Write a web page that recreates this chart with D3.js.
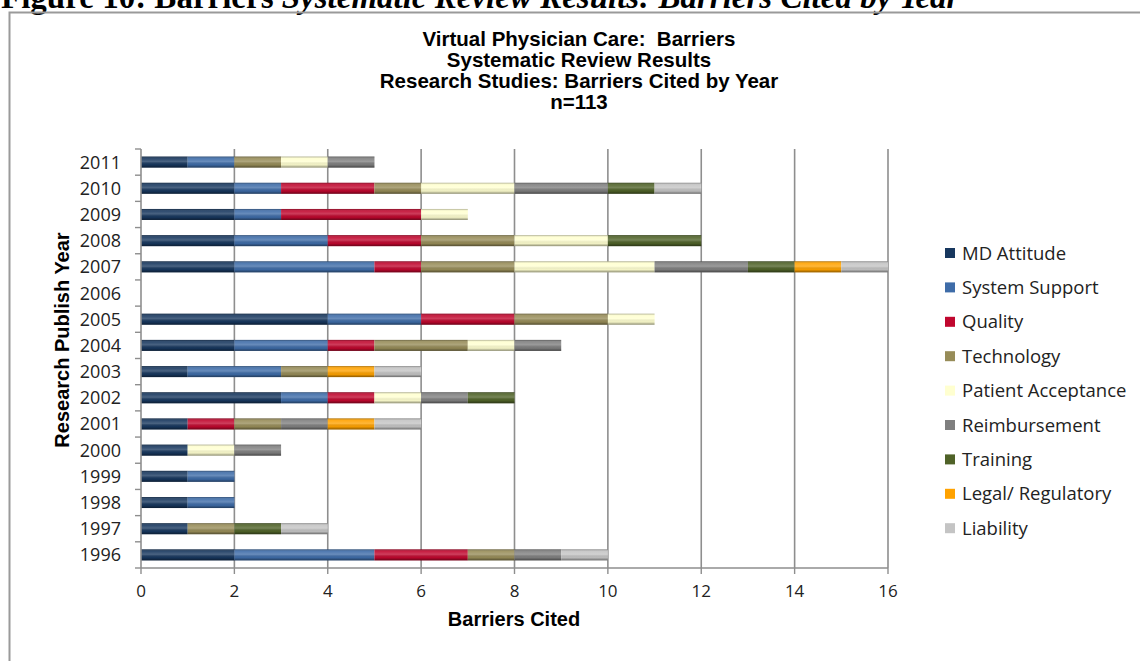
<!DOCTYPE html>
<html>
<head>
<meta charset="utf-8">
<script src="https://cdn.jsdelivr.net/npm/d3@7"></script>
<style>
  html, body { margin: 0; padding: 0; background: #fff; }
  svg { display: block; }
  text { white-space: pre; }
</style>
</head>
<body>
<svg id="chart" width="1140" height="661"></svg>
<script>
// Publication years (bottom to top on the chart)
const years = [1996, 1997, 1998, 1999, 2000, 2001, 2002, 2003, 2004, 2005, 2006, 2007, 2008, 2009, 2010, 2011];

// Barrier categories, in stacking order
const seriesNames = ["MD Attitude", "System Support", "Quality", "Technology", "Patient Acceptance",
                     "Reimbursement", "Training", "Legal/ Regulatory", "Liability"];
const seriesColors = ["#17375e", "#3e6ca8", "#c0072e", "#978c58", "#ffffd0",
                      "#7f7f7f", "#4f6228", "#ffa200", "#c4c4c4"];

// Barriers cited per year, one array per category (aligned with `years`)
const mdAttitude        = [2, 1, 1, 1, 1, 1, 3, 1, 2, 4, 0, 2, 2, 2, 2, 1];
const systemSupport     = [3, 0, 1, 1, 0, 0, 1, 2, 2, 2, 0, 3, 2, 1, 1, 1];
const quality           = [2, 0, 0, 0, 0, 1, 1, 0, 1, 2, 0, 1, 2, 3, 2, 0];
const technology        = [1, 1, 0, 0, 0, 1, 0, 1, 2, 2, 0, 2, 2, 0, 1, 1];
const patientAcceptance = [0, 0, 0, 0, 1, 0, 1, 0, 1, 1, 0, 3, 2, 1, 2, 1];
const reimbursement     = [1, 0, 0, 0, 1, 1, 1, 0, 1, 0, 0, 2, 0, 0, 2, 1];
const training          = [0, 1, 0, 0, 0, 0, 1, 0, 0, 0, 0, 1, 2, 0, 1, 0];
const legalRegulatory   = [0, 0, 0, 0, 0, 1, 0, 1, 0, 0, 0, 1, 0, 0, 0, 0];
const liability         = [1, 1, 0, 0, 0, 1, 0, 1, 0, 0, 0, 1, 0, 0, 1, 0];

const xTicks = [0, 2, 4, 6, 8, 10, 12, 14, 16];

const headerText = "Figure 10: Barriers ";
const headerItalic = "Systematic Review Results: Barriers Cited by Year";
const titleLines = ["Virtual Physician Care:  Barriers", "Systematic Review Results",
                    "Research Studies: Barriers Cited by Year", "n=113"];

// Build stacked table
const seriesValues = [mdAttitude, systemSupport, quality, technology, patientAcceptance,
                      reimbursement, training, legalRegulatory, liability];
const table = years.map((y, i) => {
  const row = { year: y };
  seriesNames.forEach((s, k) => { row[s] = seriesValues[k][i]; });
  return row;
});
const stacked = d3.stack().keys(seriesNames)(table);

const svg = d3.select("#chart");
const defs = svg.append("defs");

// Cylinder-like shading laid over each bar segment
const shade = defs.append("linearGradient")
  .attr("id", "shade").attr("x1", 0).attr("y1", 0).attr("x2", 0).attr("y2", 1);
[[0, "#000", 0.35], [0.18, "#fff", 0.10], [0.45, "#fff", 0.22], [0.75, "#000", 0.05], [1, "#000", 0.45]]
  .forEach(([o, c, a]) => shade.append("stop").attr("offset", o).attr("stop-color", c).attr("stop-opacity", a));

// Page header, running off the top edge
const header = svg.append("text")
  .attr("x", 1).attr("y", 8)
  .attr("font-family", "Liberation Serif, Times New Roman, serif")
  .attr("font-weight", "bold").attr("font-size", 33).attr("fill", "#000");
header.append("tspan").text(headerText);
header.append("tspan").attr("font-style", "italic").text(headerItalic);

// Chart frame
svg.append("path")
  .attr("d", "M9.5,661 V12.5 H1140")
  .attr("fill", "none").attr("stroke", "#9a9a9a").attr("stroke-width", 2);

// Scales
const x = d3.scaleLinear().domain([0, 16]).range([141, 888]);
const y = d3.scaleBand().domain(years.slice().reverse()).range([149, 568]).paddingInner(0.58).paddingOuter(0.29);
const step = y.step();

// Gridlines
svg.append("g").selectAll("line").data(xTicks.filter(d => d > 0)).join("line")
  .attr("x1", d => x(d)).attr("x2", d => x(d))
  .attr("y1", 149).attr("y2", 568)
  .attr("stroke", "#8e8e8e").attr("stroke-width", 1.6);

// Bars
const layers = svg.append("g").selectAll("g").data(stacked).join("g")
  .attr("fill", (d, i) => seriesColors[i]);
layers.selectAll("rect").data(d => d.filter(s => s[1] - s[0] > 0)).join("rect")
  .attr("x", d => x(d[0])).attr("width", d => x(d[1]) - x(d[0]))
  .attr("y", d => y(d.data.year)).attr("height", y.bandwidth());
layers.selectAll("rect.shade").data(d => d.filter(s => s[1] - s[0] > 0)).join("rect")
  .attr("class", "shade")
  .attr("x", d => x(d[0])).attr("width", d => x(d[1]) - x(d[0]))
  .attr("y", d => y(d.data.year)).attr("height", y.bandwidth())
  .attr("fill", "url(#shade)");

// Y axis
const yAxis = svg.append("g");
yAxis.append("line").attr("x1", 141).attr("x2", 141).attr("y1", 149).attr("y2", 568)
  .attr("stroke", "#8e8e8e").attr("stroke-width", 1.6);
const boundaries = d3.range(years.length + 1).map(i => 149 + i * step);
yAxis.selectAll("line.tk").data(boundaries).join("line").attr("class", "tk")
  .attr("x1", 135).attr("x2", 141).attr("y1", d => d).attr("y2", d => d)
  .attr("stroke", "#8e8e8e").attr("stroke-width", 1.4);
yAxis.selectAll("text").data(years).join("text")
  .attr("x", 121).attr("y", d => y(d) + y.bandwidth() / 2)
  .attr("dy", "0.36em").attr("text-anchor", "end")
  .attr("font-family", "Open Sans, sans-serif").attr("font-size", 18).attr("fill", "#222")
  .text(d => d);

// X axis
const xAxis = svg.append("g");
xAxis.append("line").attr("x1", 141).attr("x2", 888).attr("y1", 568).attr("y2", 568)
  .attr("stroke", "#8e8e8e").attr("stroke-width", 1.6);
xAxis.selectAll("line.tk").data(xTicks).join("line").attr("class", "tk")
  .attr("x1", d => x(d)).attr("x2", d => x(d)).attr("y1", 568).attr("y2", 574)
  .attr("stroke", "#8e8e8e").attr("stroke-width", 1.4);
xAxis.selectAll("text").data(xTicks).join("text")
  .attr("x", d => x(d)).attr("y", 597).attr("text-anchor", "middle")
  .attr("font-family", "Open Sans, sans-serif").attr("font-size", 17).attr("fill", "#222")
  .text(d => d);

// Axis titles
svg.append("text").attr("x", 514).attr("y", 626).attr("text-anchor", "middle")
  .attr("font-family", "Liberation Sans, Arial, sans-serif").attr("font-weight", "bold")
  .attr("font-size", 20).attr("fill", "#000").text("Barriers Cited");
svg.append("text").attr("transform", "translate(69,340) rotate(-90)").attr("text-anchor", "middle")
  .attr("font-family", "Liberation Sans, Arial, sans-serif").attr("font-weight", "bold")
  .attr("font-size", 20).attr("fill", "#000").text("Research Publish Year");

// Chart title
svg.append("g").selectAll("text").data(titleLines).join("text")
  .attr("x", 579).attr("y", (d, i) => 46 + i * 21).attr("text-anchor", "middle")
  .attr("font-family", "Liberation Sans, Arial, sans-serif").attr("font-weight", "bold")
  .attr("font-size", 20.5).attr("fill", "#000").text(d => d);

// Legend
const legend = svg.append("g").selectAll("g").data(seriesNames).join("g")
  .attr("transform", (d, i) => `translate(945,${253 + i * 34.4})`);
legend.append("rect").attr("x", 0).attr("y", -5).attr("width", 10).attr("height", 10)
  .attr("fill", (d, i) => seriesColors[i]);
legend.append("text").attr("x", 17).attr("y", 0).attr("dy", "0.36em")
  .attr("font-family", "Open Sans, sans-serif").attr("font-size", 18.5).attr("fill", "#222")
  .text(d => d);
</script>
</body>
</html>
